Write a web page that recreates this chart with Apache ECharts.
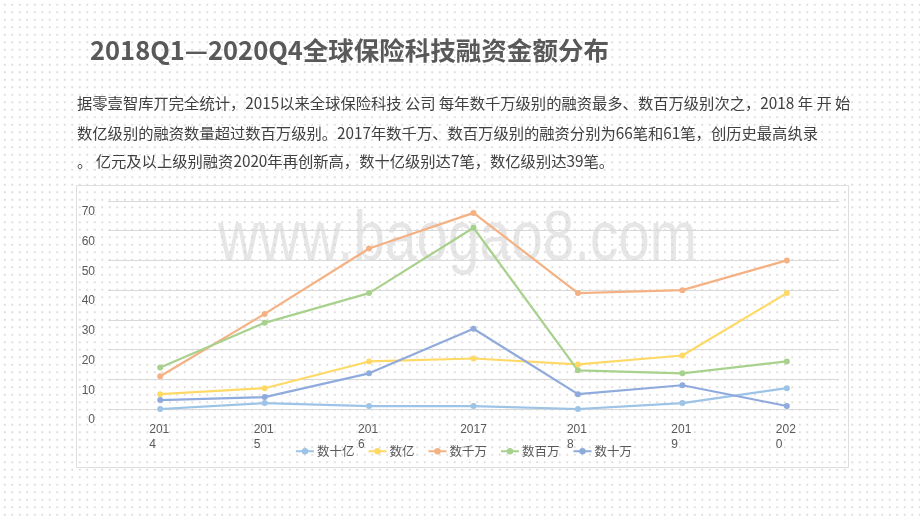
<!DOCTYPE html>
<html>
<head>
<meta charset="utf-8">
<script src="https://cdn.jsdelivr.net/npm/echarts@6/dist/echarts.min.js"></script>
<style>
html, body { margin:0; padding:0; width:920px; height:518px; overflow:hidden;
  background-color:#ffffff;
  background-image: radial-gradient(circle, rgba(170,150,150,0.42) 0.6px, transparent 1px);
  background-size: 7.5px 7.5px; background-position: 1px 1px; }
#chart { width:920px; height:518px; }
</style>
</head>
<body>
<div id="chart"></div>
<script>
const years = ['2014', '2015', '2016', '2017', '2018', '2019', '2020'];
const seriesNames = ['数十亿', '数亿', '数千万', '数百万', '数十万'];
const shiYi = [0, 2, 1, 1, 0, 2, 7];
const shuYi = [5, 7, 16, 17, 15, 18, 39];
const qianWan = [11, 32, 54, 66, 39, 40, 50];
const baiWan = [14, 29, 39, 61, 13, 12, 16];
const shiWan = [3, 4, 12, 27, 5, 8, 1];
const yTicks = [0, 10, 20, 30, 40, 50, 60, 70];
const titleText = '2018Q1—2020Q4全球保险科技融资金额分布';
const paraLines = [
  '据零壹智库丌完全统计，2015以来全球保险科技 公司 每年数千万级别的融资最多、数百万级别次之，2018 年 开 始',
  '数亿级别的融资数量超过数百万级别。2017年数千万、数百万级别的融资分别为66笔和61笔，创历史最高纨录',
  '。 亿元及以上级别融资2020年再创新高，数十亿级别达7笔，数亿级别达39笔。'
];
const watermark = 'www.baogao8.com';

const colors = ['#9DC3E6', '#FFD966', '#F4B183', '#A9D18E', '#8FAADC'];
const allData = [shiYi, shuYi, qianWan, baiWan, shiWan];

const chart = echarts.init(document.getElementById('chart'), null, {renderer: 'canvas'});
const cjk = '"Noto Sans CJK SC", "Noto Sans", sans-serif';

const option = {
  backgroundColor: 'transparent',
  animation: false,
  color: colors,
  graphic: [
    { type: 'rect', z: -10, silent: true,
      shape: { x: 76.5, y: 185.5, width: 772, height: 282 },
      style: { fill: 'none', stroke: '#dedede', lineWidth: 1 } },
    { type: 'text', z: -5, silent: true, left: 218, top: 206, scaleX: 0.81,
      style: { text: watermark, fill: 'rgba(205,205,205,0.5)', font: '300 70px "Liberation Sans", Arial, sans-serif' } },
    { type: 'text', left: 90, top: 38,
      style: { text: titleText, fill: '#595959', font: 'bold 25.5px ' + cjk } },
    { type: 'text', left: 77, top: 96,
      style: { text: paraLines[0], fill: '#404040', font: '15.3px ' + cjk } },
    { type: 'text', left: 77, top: 126,
      style: { text: paraLines[1], fill: '#404040', font: '15.3px ' + cjk } },
    { type: 'text', left: 77, top: 154,
      style: { text: paraLines[2], fill: '#404040', font: '15.3px ' + cjk } }
  ],
  legend: {
    left: 290, top: 440,
    itemWidth: 18, itemHeight: 8, itemGap: 13,
    textStyle: { color: '#595959', fontSize: 12.5, fontFamily: cjk, padding: [0, 0, 0, -2] },
    data: seriesNames
  },
  grid: { left: 108, right: 81, top: 201, bottom: 109, containLabel: false },
  xAxis: {
    type: 'category', data: years, boundaryGap: true,
    axisLine: { show: false }, axisTick: { show: false },
    axisLabel: {
      color: '#595959', fontSize: 12, margin: 13,
      formatter: function (v) {
        if (v === '2017') return '{b|2017}';
        return '{a|' + v.slice(0, 3) + '}\n{a|' + v.slice(3) + '}';
      },
      rich: {
        a: { width: 22, align: 'left', fontSize: 12, color: '#595959', lineHeight: 15, fontFamily: 'Liberation Sans, Arial, sans-serif' },
        b: { fontSize: 12, color: '#595959', lineHeight: 15, fontFamily: 'Liberation Sans, Arial, sans-serif' }
      }
    }
  },
  yAxis: {
    type: 'value', min: yTicks[0], max: yTicks[yTicks.length - 1], interval: 10,
    axisLine: { show: false }, axisTick: { show: false },
    splitLine: { lineStyle: { color: '#d9d9d9', width: 1 } },
    axisLabel: { color: '#595959', fontSize: 12, margin: 13, verticalAlign: 'top', padding: [5, 0, 0, 0],
      fontFamily: 'Liberation Sans, Arial, sans-serif' }
  },
  series: seriesNames.map(function (name, i) {
    return {
      name: name, type: 'line', data: allData[i],
      symbol: 'circle', symbolSize: 6,
      lineStyle: { width: 2.2, color: colors[i] },
      itemStyle: { color: colors[i] }
    };
  })
};
chart.setOption(option);
</script>
</body>
</html>
